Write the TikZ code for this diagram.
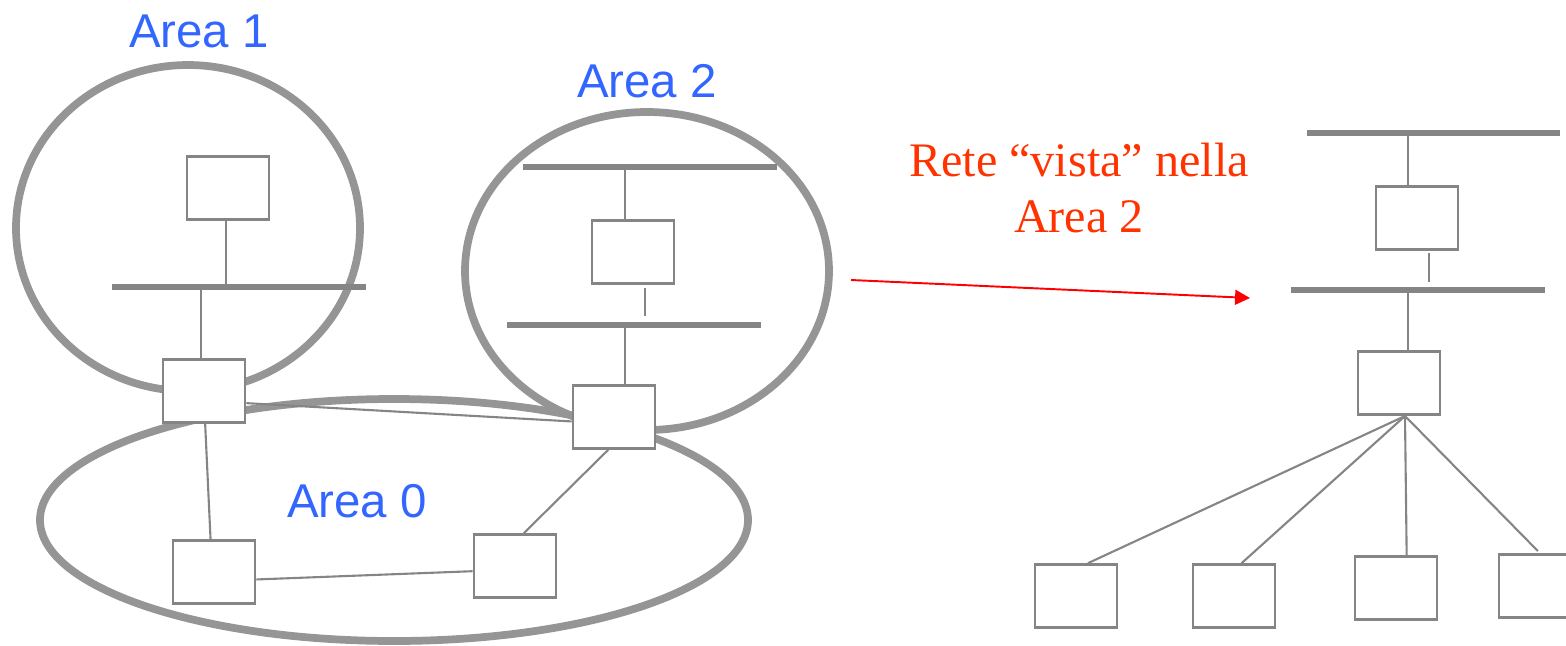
\documentclass[tikz,border=0pt]{standalone}
\usepackage{fontspec}
\setmainfont{Liberation Sans}
\newfontfamily\timesrm{Liberation Serif}
\usetikzlibrary{arrows.meta}
\definecolor{areagray}{HTML}{959595}
\definecolor{netgray}{HTML}{858585}
\definecolor{areablue}{HTML}{3366FF}
\definecolor{notered}{HTML}{FF3300}
\definecolor{arrowred}{HTML}{FF0000}
\begin{document}
\begin{tikzpicture}[x=0.02cm, y=-0.02cm,
    area/.style={draw=areagray, line width=4.4pt},
    bus/.style={draw=netgray, line width=3.6pt},
    link/.style={draw=netgray, line width=1.2pt},
    rtr/.style={draw=netgray, fill=white, line width=1.5pt,
        minimum width=1.64cm, minimum height=1.26cm, inner sep=0pt},
    arealabel/.style={text=areablue, font=\fontsize{27}{32}\selectfont, anchor=base},
    note/.style={text=notered, align=center,
        font=\timesrm\fontsize{27.4}{32.3}\selectfont}]
    \clip (0,0) rectangle (1566,646);
    % areas
    \draw[area] (188,228) ellipse [x radius=172, y radius=163];
    \draw[area] (647,271) ellipse [x radius=182, y radius=159];
    \draw[area] (394,520) ellipse [x radius=354, y radius=121];
    \node[arealabel] (lab1) at (199,47) {Area 1};
    \node[arealabel] (lab2) at (647,97) {Area 2};
    \node[arealabel] (lab0) at (357,517) {Area 0};
    % area 1
    \node[rtr] (a1host) at (228,188) {};
    \node[rtr] (r1) at (204,391) {};
    \coordinate (a1bw) at (112,287);
    \coordinate (a1be) at (366,287);
    \draw[bus] (a1bw) -- (a1be);
    \coordinate (a1up) at (226,287);
    \coordinate (a1dn) at (201,287);
    \draw[link] (a1host.south -| a1up) -- (a1up);
    \draw[link] (a1dn) -- (a1dn |- r1.north);
    % area 2
    \node[rtr] (a2host) at (633,252) {};
    \node[rtr] (r2) at (614,417) {};
    \coordinate (a2tw) at (523,167);
    \coordinate (a2te) at (777,167);
    \draw[bus] (a2tw) -- (a2te);
    \coordinate (a2bw) at (507,325);
    \coordinate (a2be) at (761,325);
    \draw[bus] (a2bw) -- (a2be);
    \coordinate (a2up) at (625,167);
    \coordinate (a2mid) at (645,316);
    \coordinate (a2dn) at (625,325);
    \draw[link] (a2up) -- (a2up |- a2host.north);
    \draw[link, shorten >=1.7pt] (a2mid) -- (a2mid |- a2host.south);
    \draw[link] (a2dn) -- (a2dn |- r2.north);
    % area 0
    \node[rtr] (b1) at (214,572) {};
    \node[rtr] (b2) at (515,566) {};
    \draw[link] (r1.-16) -- (r2.186);
    \draw[link] (r1.-88) -- (b1.96);
    \draw[link] (b1.-10) -- (b2.187);
    \draw[link] (r2.-100) -- (b2.75);
    % arrow and note
    \node[note] (note) at (1079,188) {Rete “vista” nella\\Area 2};
    \coordinate (arrs) at (851,280);
    \coordinate (arre) at (1250,298);
    \draw[-{Triangle[length=8.5pt,width=8.5pt]}, arrowred, line width=1.1pt] (arrs) -- (arre);
    % view from area 2
    \node[rtr] (rhost) at (1417,218) {};
    \node[rtr] (rr) at (1399,383) {};
    \coordinate (vtw) at (1307,133);
    \coordinate (vte) at (1560,133);
    \draw[bus] (vtw) -- (vte);
    \coordinate (vbw) at (1291,290);
    \coordinate (vbe) at (1545,290);
    \draw[bus] (vbw) -- (vbe);
    \coordinate (vup) at (1408,133);
    \coordinate (vmid) at (1429,282);
    \coordinate (vdn) at (1408,290);
    \draw[link] (vup) -- (vup |- rhost.north);
    \draw[link, shorten >=1.2pt] (vmid) -- (vmid |- rhost.south);
    \draw[link] (vdn) -- (vdn |- rr.north);
    \coordinate (hub) at (1405,416);
    \node[rtr] (l1) at (1076,596) {};
    \node[rtr] (l2) at (1234,596) {};
    \node[rtr] (l3) at (1396,588) {};
    \node[rtr] (l4) at (1540,586) {};
    \draw[link] (hub) -- (l1.70);
    \draw[link] (hub) -- (l2.77);
    \draw[link] (hub) -- (l3.72);
    \draw[link, shorten >=1.7pt] (hub) -- (l4.north);
\end{tikzpicture}
\end{document}
